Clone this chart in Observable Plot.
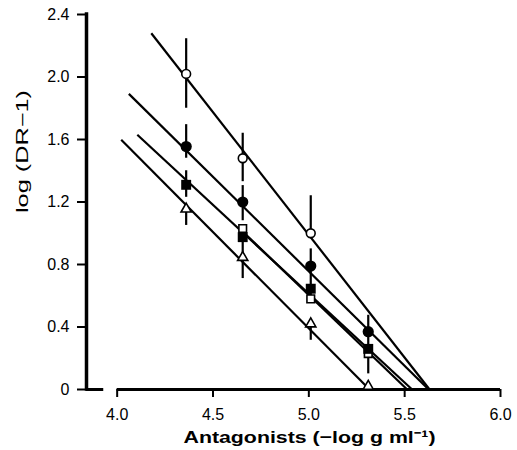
<!DOCTYPE html>
<html><head><meta charset="utf-8">
<script src="https://cdn.jsdelivr.net/npm/d3@7"></script>
<script src="https://cdn.jsdelivr.net/npm/@observablehq/plot@0.6"></script>
<style>body{margin:0;background:#fff}</style>
</head><body><div id="chart"></div>
<script>
// Antagonist concentrations (-log g/ml)
const doses = [4.36, 4.655, 5.01, 5.31];

// Series values and error-bar limits (log (DR-1))
const openCircle     = [2.02, 1.48, 1.00, null];
const openCircleLo   = [1.80, 1.33, 1.00, null];
const openCircleHi   = [2.245, 1.64, 1.24, null];
const filledCircle   = [1.555, 1.20, 0.79, 0.37];
const filledCircleLo = [1.48, 1.08, 0.64, 0.26];
const filledCircleHi = [1.695, 1.305, 0.90, 0.475];
const filledSquare   = [1.31, 0.975, 0.645, 0.26];
const filledSquareLo = [1.23, 0.85, 0.58, 0.10];
const filledSquareHi = [1.40, 0.975, 0.645, 0.26];
const openSquare     = [null, 1.03, 0.58, 0.23];
const triangle       = [1.155, 0.845, 0.42, 0.02];
const triangleLo     = [1.05, 0.71, 0.315, 0.02];

// Fitted regression lines (start / end points in data units)
const fitNames = ["openCircle", "filledCircle", "filledSquare", "openSquare", "triangle"];
const fitX1 = [4.178, 4.061, 4.105, 4.655, 4.021];
const fitY1 = [2.28, 1.892, 1.63, 1.011, 1.598];
const fitX2 = [5.63, 5.625, 5.539, 5.513, 5.317];
const fitY2 = [0, 0, 0, 0, 0];

// Axes
const xDomain = [3.84, 6.0];
const yDomain = [0, 2.4];
const xAxisSpansFrom = [3.84, 4.0];
const xAxisSpansTo = [3.93, 6.0];
const xTicks = [4.0, 4.5, 5.0, 5.5, 6.0];
const xTickLabels = ["4.0", "4.5", "5.0", "5.5", "6.0"];
const yTicks = [0, 0.4, 0.8, 1.2, 1.6, 2.0, 2.4];
const yTickLabels = ["0", "0.4", "0.8", "1.2", "1.6", "2.0", "2.4"];
const xTitle = "Antagonists (\u2212log g ml\u207B\u00B9)";
const yTitle = "log (DR\u22121)";

const pts = (vals) => doses.map((x, i) => ({x, y: vals[i]})).filter(d => d.y != null);
const bars = (lo, hi) => doses.map((x, i) => ({x, lo: lo[i], hi: hi[i]})).filter(d => d.lo != null && d.hi != null && d.hi > d.lo);

const errorBars = [
  ...bars(openCircleLo, openCircleHi),
  ...bars(filledCircleLo, filledCircleHi),
  ...bars(filledSquareLo, filledSquareHi),
  ...bars(triangleLo, triangle)
];
const fits = fitNames.map((name, i) => ({name, x1: fitX1[i], y1: fitY1[i], x2: fitX2[i], y2: fitY2[i]}));
const axisSpans = xAxisSpansFrom.map((a, i) => ({a, b: xAxisSpansTo[i]}));

const chart = Plot.plot({
  width: 517,
  height: 450,
  marginLeft: 86,
  marginRight: 17,
  marginTop: 14,
  marginBottom: 61,
  style: {fontFamily: "'Liberation Sans', Arial, sans-serif", color: "black", background: "white"},
  x: {domain: xDomain},
  y: {domain: yDomain},
  marks: [
    Plot.axisY({ticks: yTicks, tickFormat: (d) => yTickLabels[yTicks.indexOf(d)], tickSize: 9, tickPadding: 8, fontSize: 16, strokeWidth: 2, label: null}),
    Plot.axisX({ticks: xTicks, tickFormat: (d) => xTickLabels[xTicks.indexOf(d)], tickSize: 8, tickPadding: 11, fontSize: 16, strokeWidth: 2, label: null}),
    Plot.ruleX([xDomain[0]], {y1: yDomain[0], y2: yDomain[1], strokeWidth: 3.5, strokeLinecap: "square"}),
    Plot.ruleY(axisSpans, {y: 0, x1: "a", x2: "b", strokeWidth: 3}),
    Plot.link(fits, {x1: "x1", y1: "y1", x2: "x2", y2: "y2", stroke: "black", strokeWidth: 2.2}),
    Plot.ruleX(errorBars, {x: "x", y1: "lo", y2: "hi", stroke: "black", strokeWidth: 2.2}),
    Plot.dot(pts(openCircle), {x: "x", y: "y", symbol: "circle", r: 4.4, fill: "white", stroke: "black", strokeWidth: 1.6}),
    Plot.dot(pts(filledCircle), {x: "x", y: "y", symbol: "circle", r: 5.6, fill: "black"}),
    Plot.dot(pts(openSquare), {x: "x", y: "y", symbol: "square", r: 4.3, fill: "white", stroke: "black", strokeWidth: 1.6}),
    Plot.dot(pts(filledSquare), {x: "x", y: "y", symbol: "square", r: 5.6, fill: "black"}),
    Plot.dot(pts(triangle), {x: "x", y: "y", symbol: "triangle", r: 3.8, fill: "white", stroke: "black", strokeWidth: 1.6}),
    Plot.text([xTitle], {text: (d) => d, frameAnchor: "bottom", dx: 16, dy: 53, fontSize: 17, fontWeight: 600}),
    Plot.text([yTitle], {text: (d) => d, frameAnchor: "left", rotate: -90, dx: -64, dy: 11, fontSize: 16})
  ]
});

document.getElementById("chart").appendChild(chart);
d3.select(chart).selectAll("text").each(function() {
  const t = this.textContent;
  if (t === xTitle) d3.select(this).attr("textLength", 252).attr("lengthAdjust", "spacingAndGlyphs");
  if (t === yTitle) d3.select(this).attr("textLength", 123).attr("lengthAdjust", "spacingAndGlyphs");
});
</script>
</body></html>
